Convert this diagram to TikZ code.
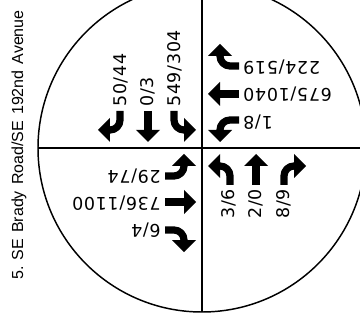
\documentclass[tikz,border=0pt]{standalone}
\usepackage{fontspec}
\newfontfamily\volfont[LetterSpace=4]{DejaVu Sans}
\newfontfamily\titlefont{Liberation Sans}
\newcommand\gap{\hspace{0.38em}}

\begin{document}
\begin{tikzpicture}[x=0.75pt,y=0.75pt,line join=round,
  frame/.style={line width=1.1pt},
  stem/.style={line width=5.4pt},
  vol/.style={inner sep=0pt,font=\volfont\fontsize{13.1}{14}\selectfont}]
  \useasboundingbox (-202,-180) rectangle (158,148);
  % Kreis und Achsen
  \begin{scope}
    \clip (-202,-180) rectangle (158,148);
    \draw[frame] (0,0) circle[radius=164];
    \draw[frame] (0,148) -- (0,-164);
    \draw[frame] (-164,0) -- (158,0);
  \end{scope}
  % Pfeile je Zufahrt: 0 = Nord-, 90 = West-, 180 = Sued-, 270 = Ostrichtung
  \foreach \ang in {0,90,180,270} {
    \begin{scope}[rotate=\ang]
      % links
      \draw[stem] (28,-37) -- (28,-28) arc[start angle=0,end angle=90,radius=10] -- ++(-1,0);
      \fill (18,-30) -- (6,-18) -- (18,-6) -- cycle;
      % geradeaus
      \draw[stem] (54,-37) -- (54,-17);
      \fill (42,-18) -- (54,-6) -- (66,-18) -- cycle;
      % rechts
      \draw[stem] (82,-37) -- (82,-28) arc[start angle=180,end angle=90,radius=10] -- ++(1,0);
      \fill (92,-30) -- (104,-18) -- (92,-6) -- cycle;
    \end{scope}
  }
  % Verkehrsstaerken
  \node[vol,rotate=90,anchor=east] (nbl) at (27,-41) {3/6};
  \node[vol,rotate=90,anchor=east] (nbt) at (54,-41) {2/0};
  \node[vol,rotate=90,anchor=east] (nbr) at (82,-41) {8/9};
  \node[vol,rotate=90,anchor=west] (sbl) at (-27,41) {549/304};
  \node[vol,rotate=90,anchor=west] (sbt) at (-54,41) {0/3};
  \node[vol,rotate=90,anchor=west] (sbr) at (-81,41) {50/44};
  \node[vol,rotate=180,anchor=west] (ebl) at (-41,-28) {29/74};
  \node[vol,rotate=180,anchor=west] (ebt) at (-41,-55) {736/1100};
  \node[vol,rotate=180,anchor=west] (ebr) at (-41,-82) {6/4};
  \node[vol,rotate=180,anchor=east] (wbl) at (41,26) {1/8};
  \node[vol,rotate=180,anchor=east] (wbt) at (41,54) {675/1040};
  \node[vol,rotate=180,anchor=east] (wbr) at (41,81) {224/519};
  % Titel
  \node[rotate=90,inner sep=0pt,font=\titlefont\fontsize{12}{13}\selectfont] (title) at (-183,3)
    {5.\gap SE\gap Brady\gap Road/SE\gap 192nd\gap Avenue};
\end{tikzpicture}
\end{document}
